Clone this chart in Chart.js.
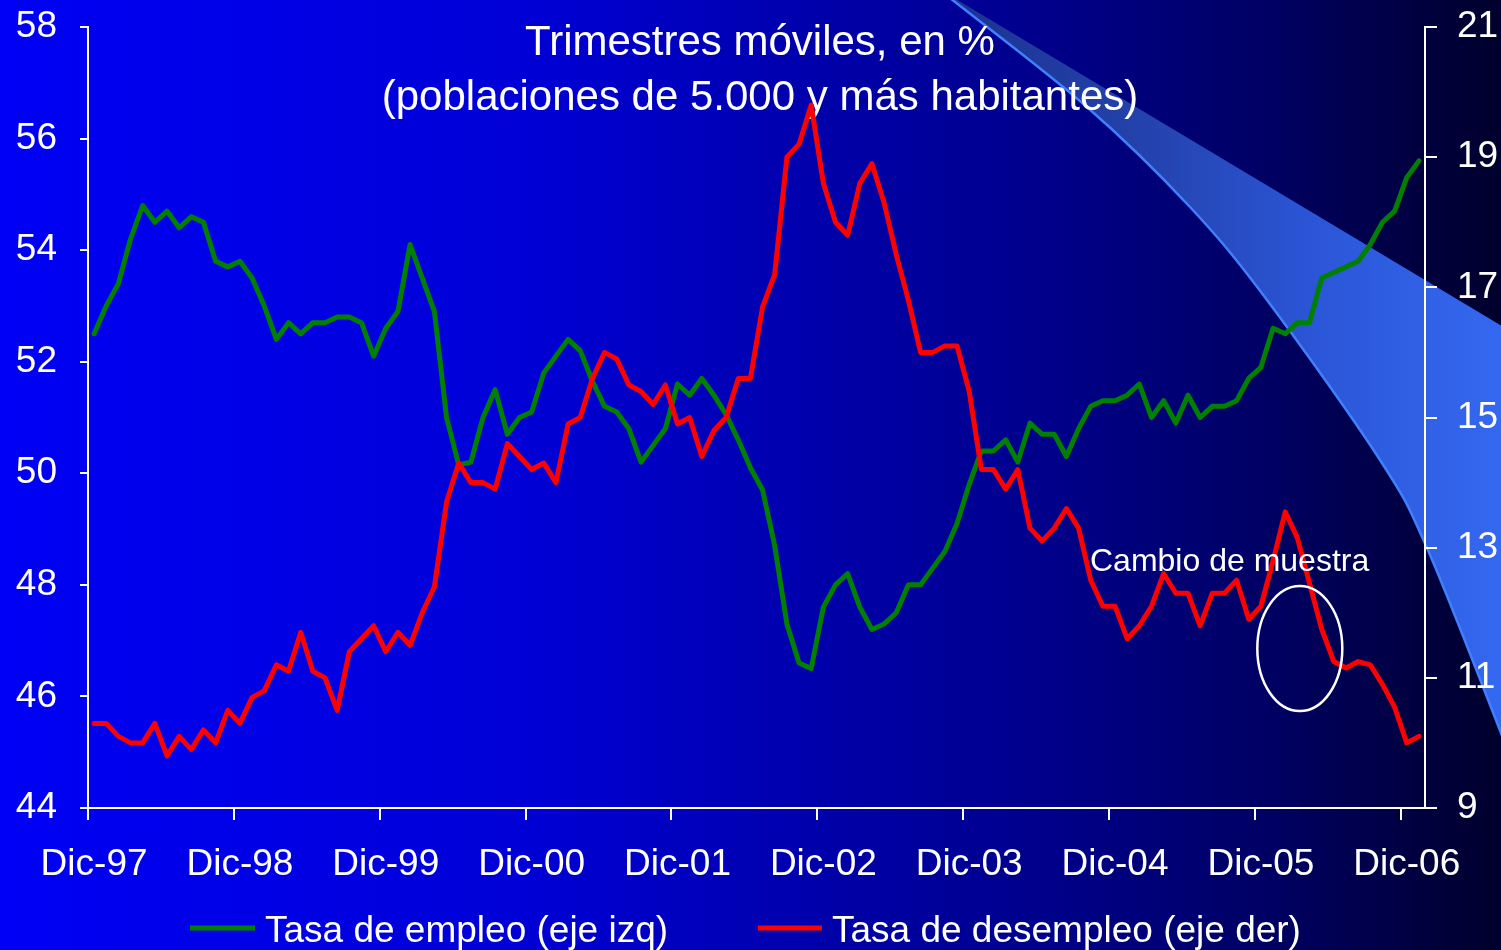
<!DOCTYPE html>
<html>
<head>
<meta charset="utf-8">
<script src="https://cdn.jsdelivr.net/npm/chart.js@4.4.1/dist/chart.umd.min.js"></script>
<style>
html,body{margin:0;padding:0;background:#000;}
canvas{display:block;}
</style>
</head>
<body>
<canvas id="c" width="1501" height="950"></canvas>
<script>
// ---------- DATA ----------
const monthNames = ['Ene','Feb','Mar','Abr','May','Jun','Jul','Ago','Sep','Oct','Nov','Dic'];
const startYear = 1997; // series starts Dic-97
const tickLabels = ['Dic-97','Dic-98','Dic-99','Dic-00','Dic-01','Dic-02','Dic-03','Dic-04','Dic-05','Dic-06'];
const seriesNames = ['Tasa de empleo (eje izq)', 'Tasa de desempleo (eje der)'];
const titleLines = ['Trimestres móviles, en %', '(poblaciones de 5.000 y más habitantes)'];
const annotationText = 'Cambio de muestra';

// Tasa de empleo (left axis)
const empleo = [
  52.5, 53.0, 53.4, 54.2, 54.8, 54.5, 54.7, 54.4, 54.6, 54.5, 53.8, 53.7,
  53.8, 53.5, 53.0, 52.4, 52.7, 52.5, 52.7, 52.7, 52.8, 52.8, 52.7, 52.1,
  52.6, 52.9, 54.1, 53.5, 52.9, 51.0, 50.15, 50.2, 51.0, 51.5, 50.7, 51.0,
  51.1, 51.8, 52.1, 52.4, 52.2, 51.65, 51.2, 51.1, 50.8, 50.2, 50.5, 50.8,
  51.6, 51.4, 51.7, 51.4, 51.05, 50.6, 50.1, 49.7, 48.7, 47.3, 46.6, 46.5,
  47.6, 48.0, 48.2, 47.6, 47.2, 47.3, 47.5, 48.0, 48.0, 48.3, 48.6, 49.1,
  49.8, 50.4, 50.4, 50.6, 50.2, 50.9, 50.7, 50.7, 50.3, 50.8, 51.2, 51.3,
  51.3, 51.4, 51.6, 51.0, 51.3, 50.9, 51.4, 51.0, 51.2, 51.2, 51.3, 51.7,
  51.9, 52.6, 52.5, 52.7, 52.7, 53.5, 53.6, 53.7, 53.8, 54.1, 54.5, 54.7,
  55.3, 55.6
];
// Tasa de desempleo (right axis)
const desempleo = [
  10.3, 10.3, 10.1, 10.0, 10.0, 10.3, 9.8, 10.1, 9.9, 10.2, 10.0, 10.5,
  10.3, 10.7, 10.8, 11.2, 11.1, 11.7, 11.1, 11.0, 10.5, 11.4, 11.6, 11.8,
  11.4, 11.7, 11.5, 12.0, 12.4, 13.7, 14.3, 14.0, 14.0, 13.9, 14.6, 14.4,
  14.2, 14.3, 14.0, 14.9, 15.0, 15.6, 16.0, 15.9, 15.5, 15.4, 15.2, 15.5,
  14.9, 15.0, 14.4, 14.8, 15.0, 15.6, 15.6, 16.7, 17.2, 19.0, 19.2, 19.8,
  18.6, 18.0, 17.8, 18.6, 18.9, 18.3, 17.5, 16.8, 16.0, 16.0, 16.1, 16.1,
  15.4, 14.2, 14.2, 13.9, 14.2, 13.3, 13.1, 13.3, 13.6, 13.3, 12.5, 12.1,
  12.1, 11.6, 11.8, 12.1, 12.6, 12.3, 12.3, 11.8, 12.3, 12.3, 12.5, 11.9,
  12.1, 12.8, 13.55, 13.15, 12.45, 11.75, 11.25, 11.15, 11.25, 11.2, 10.9, 10.55,
  10.0, 10.1
];
const leftAxis = { min: 44, max: 58, step: 2 };
const rightAxis = { min: 9, max: 21, step: 2 };
// annotation ellipse anchor (category index, right-axis value)
const annotAnchor = { index: 99.2, value: 11.45 };

// category labels built from month names
const labels = [];
for (let i = 0; i < empleo.length; i++) {
  const k = 11 + i;
  labels.push(monthNames[k % 12] + '-' + String((startYear + Math.floor(k / 12)) % 100).padStart(2, '0'));
}

// ---------- STYLE ----------
const FONT = "'Liberation Sans', Arial, sans-serif";
Chart.defaults.font.family = FONT;
Chart.defaults.color = '#ffffff';
const GREEN = '#008000', RED = '#ff0000';

function catmull(ctx, pts, move) {
  if (move) ctx.moveTo(pts[0][0], pts[0][1]); else ctx.lineTo(pts[0][0], pts[0][1]);
  for (let i = 0; i < pts.length - 1; i++) {
    const p0 = pts[Math.max(i - 1, 0)], p1 = pts[i], p2 = pts[i + 1], p3 = pts[Math.min(i + 2, pts.length - 1)];
    ctx.bezierCurveTo(p1[0] + (p2[0] - p0[0]) / 6, p1[1] + (p2[1] - p0[1]) / 6,
                      p2[0] - (p3[0] - p1[0]) / 6, p2[1] - (p3[1] - p1[1]) / 6, p2[0], p2[1]);
  }
}

const backgroundPlugin = {
  id: 'bg',
  beforeDraw(chart) {
    const ctx = chart.ctx, W = chart.width, H = chart.height;
    ctx.save();
    const g = ctx.createLinearGradient(0, 0, W, 0);
    g.addColorStop(0.0, '#0000f6');
    g.addColorStop(0.35, '#0000d6');
    g.addColorStop(0.55, '#0000aa');
    g.addColorStop(0.70, '#00008a');
    g.addColorStop(0.85, '#000062');
    g.addColorStop(1.0, '#00002c');
    ctx.fillStyle = g;
    ctx.fillRect(0, 0, W, H);

    // decorative swoosh
    const lower = [[950, -2], [1087, 107], [1190, 207], [1267, 300], [1380, 460], [1427, 548], [1501, 733], [1510, 760]];
    const band = ctx.createLinearGradient(950, 0, W, 0);
    band.addColorStop(0, '#1c3290');
    band.addColorStop(0.35, '#2442ac');
    band.addColorStop(0.65, '#2b55d6');
    band.addColorStop(1, '#3468f0');
    ctx.beginPath();
    catmull(ctx, lower, true);
    ctx.lineTo(1510, 331);
    ctx.lineTo(954, -2);
    ctx.closePath();
    ctx.fillStyle = band;
    ctx.fill();
    ctx.beginPath();
    catmull(ctx, lower, true);
    ctx.strokeStyle = '#3f80ff';
    ctx.lineWidth = 2.5;
    ctx.stroke();
    ctx.restore();
  }
};

const decoPlugin = {
  id: 'deco',
  beforeDatasetsDraw(chart) {
    const ctx = chart.ctx;
    ctx.save();
    ctx.fillStyle = '#ffffff';
    ctx.textAlign = 'center';
    ctx.textBaseline = 'alphabetic';
    ctx.font = '42px ' + FONT;
    ctx.fillText(titleLines[0], 760, 55);
    ctx.fillText(titleLines[1], 760, 110);
    ctx.restore();
  },
  afterDatasetsDraw(chart) {
    const ctx = chart.ctx;
    const xs = chart.scales.x, yr = chart.scales.y1;
    ctx.save();
    const cx = xs.getPixelForValue(annotAnchor.index);
    const cy = yr.getPixelForValue(annotAnchor.value);
    ctx.beginPath();
    ctx.ellipse(cx, cy, 42.5, 62.5, 0, 0, Math.PI * 2);
    ctx.strokeStyle = '#ffffff';
    ctx.lineWidth = 2.5;
    ctx.stroke();
    ctx.fillStyle = '#ffffff';
    ctx.font = '32px ' + FONT;
    ctx.textAlign = 'left';
    ctx.textBaseline = 'alphabetic';
    ctx.fillText(annotationText, 1090, 571);
    ctx.restore();
  },
  afterDraw(chart) {
    const ctx = chart.ctx;
    ctx.save();
    const items = [
      { color: GREEN, text: seriesNames[0], x0: 190, x1: 255, tx: 265 },
      { color: RED, text: seriesNames[1], x0: 758, x1: 822, tx: 832 }
    ];
    ctx.font = '37px ' + FONT;
    ctx.textAlign = 'left';
    ctx.textBaseline = 'alphabetic';
    items.forEach(it => {
      ctx.beginPath();
      ctx.moveTo(it.x0, 928);
      ctx.lineTo(it.x1, 928);
      ctx.strokeStyle = it.color;
      ctx.lineWidth = 5;
      ctx.stroke();
      ctx.fillStyle = '#ffffff';
      ctx.fillText(it.text, it.tx, 942);
    });
    ctx.restore();
  }
};

function fixY(width) {
  return s => { s.width = width; s.paddingTop = 0; s.paddingBottom = 0; };
}

new Chart(document.getElementById('c').getContext('2d'), {
  type: 'line',
  data: {
    labels: labels,
    datasets: [
      { label: seriesNames[1], data: desempleo, yAxisID: 'y1', borderColor: RED, borderWidth: 5,
        pointRadius: 0, tension: 0, fill: false, order: 0, borderJoinStyle: 'round', borderCapStyle: 'round' },
      { label: seriesNames[0], data: empleo, yAxisID: 'y', borderColor: GREEN, borderWidth: 5,
        pointRadius: 0, tension: 0, fill: false, order: 1, borderJoinStyle: 'round', borderCapStyle: 'round' }
    ]
  },
  options: {
    responsive: false,
    animation: false,
    devicePixelRatio: 1,
    layout: { padding: { top: 27, left: 0, right: 0, bottom: 0 } },
    plugins: { legend: { display: false }, tooltip: { enabled: false }, title: { display: false } },
    scales: {
      x: {
        type: 'category',
        offset: true,
        grid: {
          offset: true, drawOnChartArea: false, drawTicks: true, tickLength: 12, lineWidth: 2,
          color: c => (c.index % 12 === 0) ? '#ffffff' : 'rgba(0,0,0,0)'
        },
        border: { color: '#ffffff', width: 2 },
        ticks: {
          autoSkip: false, maxRotation: 0, minRotation: 0, padding: 23,
          font: { size: 37 }, color: '#ffffff',
          callback: (v, i) => tickLabels.includes(labels[i]) ? labels[i] : ''
        },
        afterFit: s => { s.height = 142; s.paddingLeft = 0; s.paddingRight = 0; }
      },
      y: {
        position: 'left', min: leftAxis.min, max: leftAxis.max,
        ticks: { stepSize: leftAxis.step, padding: 23, font: { size: 37 }, color: '#ffffff' },
        grid: { drawOnChartArea: false, tickLength: 8, color: '#ffffff', lineWidth: 2 },
        border: { color: '#ffffff', width: 2 },
        afterFit: fixY(88)
      },
      y1: {
        position: 'right', min: rightAxis.min, max: rightAxis.max,
        ticks: { stepSize: rightAxis.step, padding: 20, font: { size: 37 }, color: '#ffffff' },
        grid: { drawOnChartArea: false, tickLength: 12, color: '#ffffff', lineWidth: 2 },
        border: { color: '#ffffff', width: 2 },
        afterFit: fixY(76)
      }
    }
  },
  plugins: [backgroundPlugin, decoPlugin]
});
</script>
</body>
</html>
